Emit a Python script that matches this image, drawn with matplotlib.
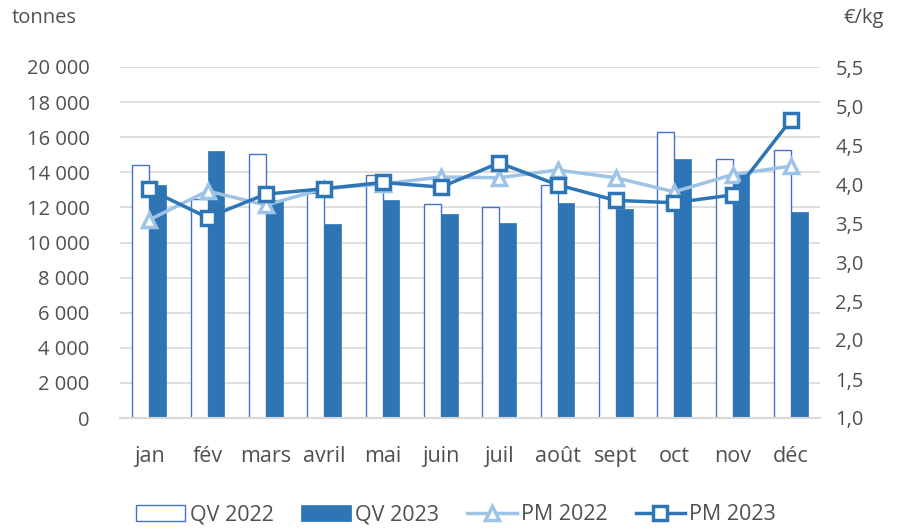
import matplotlib
matplotlib.use("Agg")
import matplotlib.pyplot as plt
import numpy as np
from matplotlib.ticker import FuncFormatter

months = ["jan", "fév", "mars", "avril", "mai", "juin", "juil", "août", "sept", "oct", "nov", "déc"]
qv_2022 = [14420, 12500, 15020, 12800, 13850, 12210, 12040, 13260, 12570, 16300, 14760, 15250]
qv_2023 = [13280, 15210, 12400, 11030, 12420, 11640, 11090, 12250, 11890, 14740, 13900, 11760]
pm_2022 = [3.54, 3.91, 3.73, 3.94, 4.00, 4.09, 4.08, 4.18, 4.08, 3.90, 4.12, 4.23]
pm_2023 = [3.93, 3.57, 3.87, 3.94, 4.02, 3.96, 4.27, 3.99, 3.79, 3.76, 3.86, 4.82]

plt.rcParams['font.family'] = ['Open Sans', 'DejaVu Sans']
txt = '#505050'
fs = 14.5

fig = plt.figure(figsize=(8.97, 5.30), dpi=100)
ax = fig.add_axes([120/897, 112/530, 700/897, 351/530])
ax2 = ax.twinx()

x = np.arange(len(months))
w = 0.29
ax.bar(x - w/2, qv_2022, width=w, facecolor='white', edgecolor='#4472C4', linewidth=1.0, label='QV 2022', zorder=2)
ax.bar(x + w/2, qv_2023, width=w, facecolor='#2E75B6', edgecolor='#2E75B6', linewidth=0.5, label='QV 2023', zorder=2)

ax2.plot(x, pm_2022, color='#9DC3E6', linewidth=2.5, marker='^', markersize=10,
         markerfacecolor='white', markeredgecolor='#9DC3E6', markeredgewidth=2.5, label='PM 2022', zorder=3)
ax2.plot(x, pm_2023, color='#2E75B6', linewidth=2.5, marker='s', markersize=10,
         markerfacecolor='white', markeredgecolor='#2E75B6', markeredgewidth=2.5, label='PM 2023', zorder=4)

ax.set_xlim(-0.5, len(months) - 0.5)
ax.set_ylim(0, 20000)
ax.set_yticks(np.arange(0, 20001, 2000))
ax.yaxis.set_major_formatter(FuncFormatter(lambda v, p: f"{int(v):,}".replace(",", " ")))
ax2.set_ylim(1.0, 5.5)
ax2.set_yticks(np.arange(1.0, 5.51, 0.5))
ax2.yaxis.set_major_formatter(FuncFormatter(lambda v, p: f"{v:.1f}".replace(".", ",")))

ax.set_xticks(x)
ax.set_xticklabels(months)
ax.grid(axis='y', color='#D9D9D9', linewidth=1.2, zorder=0)
ax.set_axisbelow(True)

for a in (ax, ax2):
    for s in ['top', 'left', 'right']:
        a.spines[s].set_visible(False)
    a.spines['bottom'].set_visible(False)
    a.tick_params(length=0, labelsize=fs, labelcolor=txt)
ax.spines['bottom'].set_visible(True)
ax.spines['bottom'].set_color('#D9D9D9')
ax.spines['bottom'].set_linewidth(1.5)
ax.tick_params(axis='y', pad=22)
ax.tick_params(axis='x', pad=20, labelsize=15.5)
ax2.tick_params(axis='y', pad=11)

fig.text(12/897, 1 - 18/530, "tonnes", fontsize=fs, color=txt, va='center', ha='left')
fig.text(843/897, 1 - 18/530, "€/kg", fontsize=fs, color=txt, va='center', ha='left')

h1, l1 = ax.get_legend_handles_labels()
h2, l2 = ax2.get_legend_handles_labels()
fig.legend(h1 + h2, l1 + l2, loc='center', bbox_to_anchor=(456/897, 1 - 515/530), ncol=4,
           frameon=False, fontsize=15.5, labelcolor=txt, handlelength=2.3, handletextpad=0.2,
           columnspacing=1.3)

fig.savefig("out.png", dpi=100)
